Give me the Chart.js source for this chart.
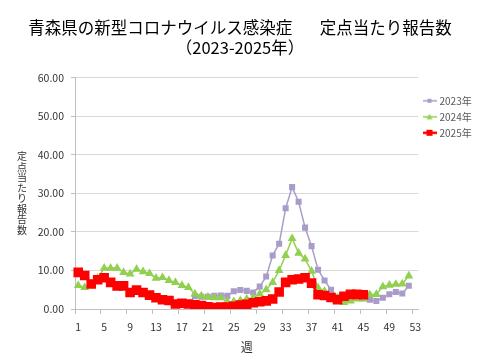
<!DOCTYPE html>
<html lang="ja">
<head>
<meta charset="UTF-8">
<title>青森県の新型コロナウイルス感染症 定点当たり報告数</title>
<script src="https://cdn.jsdelivr.net/npm/chart.js"></script>
<style>
  body { margin: 0; background: #fff; }
  #wrap { width: 480px; height: 360px; position: relative; }
</style>
</head>
<body>
<div id="wrap"><canvas id="chart"></canvas></div>
<script>
  // 週 (week numbers)
  const weeks = ['1','2','3','4','5','6','7','8','9','10','11','12','13','14','15','16','17','18','19','20',
                 '21','22','23','24','25','26','27','28','29','30','31','32','33','34','35','36','37','38','39','40',
                 '41','42','43','44','45','46','47','48','49','50','51','52','53'];

  // 定点当たり報告数 per year
  const cases2023 = [null, null, null, null, null, null, null, null, null, null,
                     null, null, null, null, null, null, null, null, 3.3, 3.2,
                     3.2, 3.4, 3.5, 3.4, 4.6, 4.9, 4.7, 4.3, 5.8, 8.4,
                     13.9, 16.9, 26.1, 31.6, 27.8, 21.1, 16.3, 10.2, 7.4, 5.0,
                     3.2, 3.0, 3.0, 2.9, 2.8, 2.4, 2.1, 2.9, 3.8, 4.4,
                     4.0, 6.0, null];
  const cases2024 = [6.1, 5.6, 6.6, 8.0, 10.6, 10.6, 10.6, 9.5, 9.1, 10.3,
                     9.7, 9.2, 8.0, 8.2, 7.4, 6.9, 6.1, 5.6, 3.9, 3.4,
                     3.1, 2.9, 2.9, 1.9, 1.9, 2.2, 2.6, 2.9, 3.9, 5.0,
                     6.9, 10.0, 13.9, 18.3, 14.5, 13.0, 9.8, 5.5, 4.6, 3.2,
                     2.8, 1.7, 2.1, 2.6, 2.6, 3.7, 3.8, 5.8, 6.2, 6.4,
                     6.5, 8.6, null];
  const cases2025 = [9.5, 8.7, 6.5, 7.6, 8.1, 6.9, 6.0, 6.0, 4.3, 4.9,
                     4.3, 3.6, 2.9, 2.4, 2.2, 1.3, 1.5, 1.3, 1.1, 0.9,
                     0.6, 0.4, 0.5, 0.5, 0.7, 1.0, 1.2, 1.6, 1.9, 2.1,
                     2.6, 4.4, 6.9, 7.6, 7.8, 8.1, 6.7, 3.7, 3.5, 3.0,
                     2.4, 3.3, 3.8, 3.8, 3.7, null, null, null, null, null,
                     null, null, null];

  const seriesNames = ['2023年', '2024年', '2025年'];
  const FONT = "'Noto Sans CJK JP', 'Noto Sans', sans-serif";

  // small "line + marker" swatch for the legend, like Excel
  function swatch(color, style, size, lw) {
    const c = document.createElement('canvas');
    c.width = 14; c.height = 10;
    const g = c.getContext('2d');
    g.strokeStyle = color; g.fillStyle = color; g.lineWidth = lw;
    g.beginPath(); g.moveTo(0, 5); g.lineTo(14, 5); g.stroke();
    if (style === 'rect') {
      g.fillRect(7 - size / 2, 5 - size / 2, size, size);
    } else {
      g.beginPath();
      g.moveTo(7, 5 - size / 2 - 0.5);
      g.lineTo(7 + size / 2 + 0.5, 5 + size / 2);
      g.lineTo(7 - size / 2 - 0.5, 5 + size / 2);
      g.closePath(); g.fill();
    }
    return c;
  }
  const swatches = [
    swatch('#a99bca', 'rect', 4, 1.5),
    swatch('#92d050', 'tri', 5, 1.5),
    swatch('#ff0000', 'rect', 6, 2.5)
  ];

  // vertical (upright) y-axis title
  const yTitle = {
    id: 'yTitle',
    afterDraw(chart) {
      const ctx = chart.ctx, area = chart.chartArea;
      const text = '定点当たり報告数';
      const step = 10.5;
      const top = (area.top + area.bottom) / 2 - step * text.length / 2 + step / 2;
      ctx.save();
      ctx.font = '10px ' + FONT;
      ctx.fillStyle = '#333';
      ctx.textAlign = 'center';
      ctx.textBaseline = 'middle';
      for (let i = 0; i < text.length; i++) ctx.fillText(text[i], 22, top + i * step);
      ctx.restore();
    }
  };

  new Chart(document.getElementById('chart'), {
    type: 'line',
    data: {
      labels: weeks,
      datasets: [
        { label: seriesNames[0], data: cases2023, order: 3,
          borderColor: '#a99bca', backgroundColor: '#a99bca', borderWidth: 1.5,
          pointStyle: 'rect', pointRadius: 3.2, pointHoverRadius: 3.2, tension: 0 },
        { label: seriesNames[1], data: cases2024, order: 2,
          borderColor: '#92d050', backgroundColor: '#92d050', borderWidth: 1.5,
          pointStyle: 'triangle', pointRadius: 3.6, pointHoverRadius: 3.6, tension: 0 },
        { label: seriesNames[2], data: cases2025, order: 1,
          borderColor: '#ff0000', backgroundColor: '#ff0000', borderWidth: 2.5,
          pointStyle: 'rect', pointRadius: 5, pointHoverRadius: 5, tension: 0 }
      ]
    },
    options: {
      responsive: true,
      maintainAspectRatio: false,
      animation: false,
      layout: { padding: { left: 0, right: 0, top: 0, bottom: 3 } },
      plugins: {
        title: {
          display: true,
          text: ['青森県の新型コロナウイルス感染症　   定点当たり報告数', '（2023-2025年）'],
          color: '#000',
          font: { family: FONT, size: 16.5, weight: 'normal', lineHeight: 1.2 },
          padding: { top: 18, bottom: 20 }
        },
        legend: {
          position: 'right',
          align: 'start',
          fullSize: false,
          maxWidth: 61.5,
          title: { display: true, text: ' ', font: { size: 1 }, padding: { top: 11, bottom: 0 } },
          labels: {
            usePointStyle: true,
            pointStyleWidth: 10,
            boxHeight: 10,
            padding: 6,
            color: '#595959',
            font: { family: FONT, size: 10 },
            sort: (a, b) => a.datasetIndex - b.datasetIndex,
            generateLabels(chart) {
              const items = Chart.defaults.plugins.legend.labels.generateLabels(chart);
              items.forEach(it => { it.pointStyle = swatches[it.datasetIndex]; });
              return items;
            }
          }
        },
        tooltip: { enabled: false }
      },
      scales: {
        x: {
          type: 'category',
          offset: true,
          border: { color: '#bfbfbf' },
          grid: {
            offset: true,
            drawOnChartArea: false,
            drawTicks: true,
            tickLength: 5,
            tickColor: ctx => (ctx.index % 4 === 0 ? '#bfbfbf' : 'rgba(0,0,0,0)')
          },
          ticks: {
            autoSkip: false,
            maxRotation: 0,
            padding: 7,
            color: '#333',
            font: { family: FONT, size: 10.5 },
            callback: (v, i) => (i % 4 === 0 ? weeks[i] : '')
          },
          title: {
            display: true,
            text: '週',
            color: '#333',
            font: { family: FONT, size: 12 },
            padding: { top: 0, bottom: 2 }
          }
        },
        y: {
          min: 0,
          max: 60,
          border: { color: '#bfbfbf' },
          grid: { color: '#d9d9d9', tickLength: 4, tickColor: '#bfbfbf' },
          ticks: {
            stepSize: 10,
            padding: 7,
            color: '#333',
            font: { family: FONT, size: 10.5 },
            callback: v => v.toFixed(2)
          },
          afterFit(scale) { scale.width = 75; }
        }
      }
    },
    plugins: [yTitle]
  });
</script>
</body>
</html>
